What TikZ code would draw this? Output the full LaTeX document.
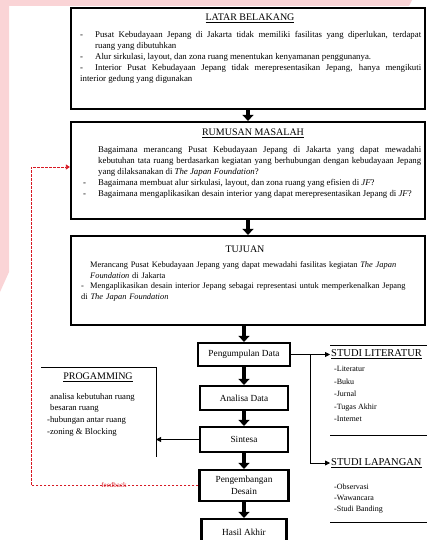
\documentclass[tikz,border=0pt]{standalone}
\usepackage{fontspec}
\setmainfont{Liberation Serif}
\usetikzlibrary{arrows.meta}
\definecolor{wmpink}{RGB}{250,212,214}
\definecolor{fbred}{RGB}{215,25,35}
% list lines inside the big boxes
\newcommand{\dashitem}[2][15pt]{\par\hangindent=#1\hangafter=1\noindent\makebox[#1][l]{-}#2}
\newcommand{\flatitem}[2][15pt]{\par\hangindent=#1\hangafter=0\noindent #2}
\tikzset{
  bigbox/.style={draw, line width=2.2pt, minimum width=354pt, inner sep=0pt},
  boxtext/.style={anchor=north west, inner sep=0pt, align=justify, font=\fontsize{8.8}{11}\selectfont},
  titletext/.style={inner sep=1pt, font=\fontsize{10}{12}\selectfont},
  listtext/.style={anchor=north west, inner sep=0pt, align=left, font=\fontsize{8}{12.5}\selectfont},
  stepbox/.style={draw, line width=2.2pt, align=center, inner sep=0pt, font=\fontsize{9.3}{11.5}\selectfont},
  fat/.style={line width=4.5pt, -{Triangle[width=11pt,length=6pt]}},
  linkarrow/.style={line width=0.8pt, -{Triangle[width=5pt,length=5pt]}},
  rule/.style={line width=0.8pt},
  feed/.style={fbred, line width=0.7pt, dash pattern=on 2.5pt off 1.5pt, -{Triangle[width=5pt,length=4pt]}}
}
\begin{document}
\begin{tikzpicture}[x=1pt,y=-1pt]
\useasboundingbox (0,0) rectangle (427,540);
\fill[wmpink] (0,0) -- (412,0) -- (409,6) -- (9,6) -- (9,272) -- (0,292) -- cycle;

% three big boxes
\node[bigbox, minimum height=101pt] (latar) at (248,58.5) {};
\node[bigbox, minimum height=97pt] (rumusan) at (248,170.5) {};
\node[bigbox, minimum height=89pt] (tujuan) at (248,280.5) {};

\node[titletext] (latarttl) at (250,18) {\underline{LATAR BELAKANG}};
\node[boxtext, text width=341pt] (latartxt) at (80,26) {%
\dashitem{Pusat Kebudayaan Jepang di Jakarta tidak memiliki fasilitas yang diperlukan, terdapat\linebreak ruang yang dibutuhkan}
\dashitem{Alur sirkulasi, layout, dan zona ruang menentukan kenyamanan penggunanya.}
\dashitem{Interior Pusat Kebudayaan Jepang tidak merepresentasikan Jepang, hanya mengikuti\linebreak interior gedung yang digunakan}};

\node[titletext] (rumusanttl) at (253,133) {\underline{RUMUSAN MASALAH}};
\node[boxtext, text width=338pt] (rumusantxt) at (83,141) {%
\flatitem{Bagaimana merancang Pusat Kebudayaan Jepang di Jakarta yang dapat mewadahi\linebreak kebutuhan tata ruang berdasarkan kegiatan yang berhubungan dengan kebudayaan Jepang\linebreak yang dilaksanakan di \textit{The Japan Foundation}?}
\dashitem{Bagaimana membuat alur sirkulasi, layout, dan zona ruang yang efisien di \textit{JF}?}
\dashitem{Bagaimana mengaplikasikan desain interior yang dapat merepresentasikan Jepang di \textit{JF}?}};

\node[titletext] (tujuanttl) at (245,249) {TUJUAN};
\node[boxtext, text width=337pt, align=left, font=\fontsize{8.4}{10.5}\selectfont] (tujuantxt) at (81,257) {%
\flatitem[9pt]{Merancang Pusat Kebudayaan Jepang yang dapat mewadahi fasilitas kegiatan \textit{The Japan}\newline \textit{Foundation} di Jakarta}
\dashitem[9pt]{Mengaplikasikan desain interior Jepang sebagai representasi untuk memperkenalkan Jepang\newline di \textit{The Japan Foundation}}};

% process column
\node[stepbox, minimum width=92pt, minimum height=23pt] (pengumpulan) at (244,354.5) {Pengumpulan Data};
\node[stepbox, minimum width=88pt, minimum height=24pt] (analisa) at (244,398) {Analisa Data};
\node[stepbox, minimum width=88pt, minimum height=25pt] (sintesa) at (244,439.5) {Sintesa};
\node[stepbox, minimum width=89pt, minimum height=31pt] (pengembangan) at (244,485.5) {Pengembangan\\Desain};
\node[stepbox, minimum width=85pt, minimum height=26pt] (hasil) at (244,532) {Hasil Akhir};

\draw[fat] (latar.south) -- (rumusan.north);
\draw[fat] (rumusan.south) -- (tujuan.north);
\draw[fat] (tujuan.south -| pengumpulan.north) -- (pengumpulan.north);
\draw[fat] (pengumpulan.south) -- (analisa.north);
\draw[fat] (analisa.south) -- (sintesa.north);
\draw[fat] (sintesa.south) -- (pengembangan.north);
\draw[fat] (pengembangan.south) -- (hasil.north);

% studi literatur / lapangan
\draw[rule] (330,345) -- (427,345);
\draw[rule] (330,435) -- (427,435);
\draw[rule] (330,522) -- (427,522);
\node[titletext, anchor=west, font=\fontsize{10.5}{13}\selectfont] (litttl) at (330,354.5) {\underline{STUDI LITERATUR}};
\node[listtext] (litlist) at (334,366) {-Literatur\\-Buku\\-Jurnal\\-Tugas Akhir\\-Internet};
\node[titletext, anchor=west, font=\fontsize{10.5}{13}\selectfont] (lapttl) at (330,463) {\underline{STUDI LAPANGAN}};
\node[listtext, font=\fontsize{8}{11}\selectfont] (laplist) at (334,484) {-Observasi\\-Wawancara\\-Studi Banding};
\coordinate (branch) at (310,354.5);
\draw[linkarrow] (pengumpulan.east) -- (litttl.west);
\draw[linkarrow] (branch) |- (lapttl.west);

% programming
\coordinate (progtop) at (156,367);
\coordinate (progbot) at (156,457);
\draw[rule] (41,367) -- (progtop) -- (progbot);
\node[titletext] (progttl) at (98,377) {\underline{PROGAMMING}};
\node[listtext, font=\fontsize{8.7}{11.7}\selectfont] (proglist) at (47,393) {\hspace*{3pt}analisa kebutuhan ruang\\\hspace*{3pt}besaran ruang\\-hubungan antar ruang\\-zoning \& Blocking};
\draw[linkarrow] (sintesa.west) -- (sintesa.west -| progtop);

% feedback loop
\coordinate (fbtop) at (31,167);
\draw[feed] (pengembangan.west) -| (fbtop) -- (fbtop -| rumusan.west);
\node[text=fbred, inner sep=0pt, font=\fontsize{7}{8}\selectfont] (fblabel) at (114,485) {feedback};
\end{tikzpicture}
\end{document}
